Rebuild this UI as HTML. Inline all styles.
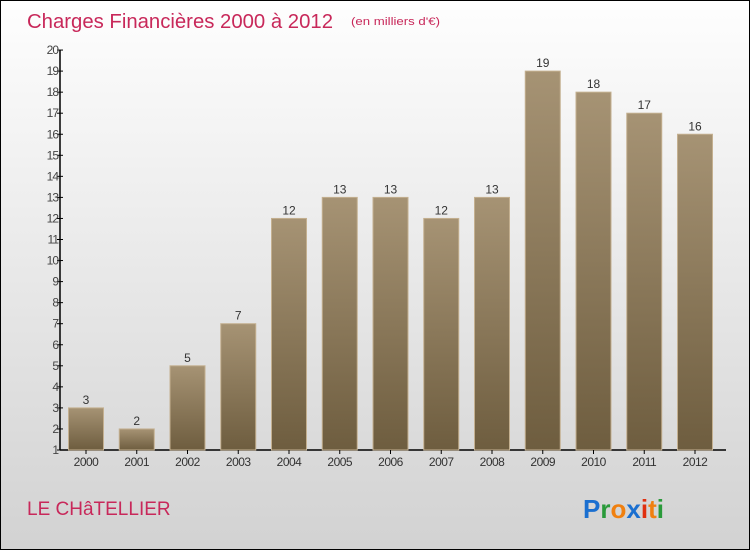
<!DOCTYPE html>
<html><head><meta charset="utf-8"><style>
body{margin:0}
#c{position:relative;width:748px;height:548px;border:1px solid #000;background:linear-gradient(#fefefe,#d2d2d2);overflow:hidden;font-family:"Liberation Sans",sans-serif}
</style></head><body>
<div id="c">
<svg width="748" height="548">
<defs><linearGradient id="bg" x1="0" y1="0" x2="0" y2="1"><stop offset="0" stop-color="#a69374"/><stop offset="1" stop-color="#6e5d3f"/></linearGradient></defs>
<text x="26" y="27" font-size="20" fill="#c8285a" textLength="306" lengthAdjust="spacingAndGlyphs">Charges Financières 2000 à 2012</text>
<text x="350" y="24" font-size="11" fill="#c8285a" textLength="89" lengthAdjust="spacingAndGlyphs">(en milliers d'€)</text>
<text x="26" y="514" font-size="19" fill="#c8285a">LE CHâTELLIER</text>
<text x="582" y="517" font-size="26" font-weight="bold"><tspan fill="#1a6fd0">P</tspan><tspan fill="#2a9a3a">r</tspan><tspan fill="#f08010">o</tspan><tspan fill="#1a6fd0">x</tspan><tspan fill="#e03010">i</tspan><tspan fill="#f08010">t</tspan><tspan fill="#2a9a3a">i</tspan></text>
<g id="g"></g>
</svg></div>
<script>
const years=["2000","2001","2002","2003","2004","2005","2006","2007","2008","2009","2010","2011","2012"];
const values=[3,2,5,7,12,13,13,12,13,19,18,17,16];
const yTicks=[1,2,3,4,5,6,7,8,9,10,11,12,13,14,15,16,17,18,19,20];
const NS="http://www.w3.org/2000/svg",g=document.getElementById('g');
const y=v=>449-(v-1)*21.05, x=i=>85+i*50.75;
function mk(t,a){const e=document.createElementNS(NS,t);for(const k in a)e.setAttribute(k,a[k]);g.appendChild(e);return e;}
let ax=mk('line',{x1:59,y1:49,x2:59,y2:449,stroke:'#000','stroke-width':1.5});


let xa=mk('line',{x1:59,y1:449,x2:725,y2:449,stroke:'#000','stroke-width':1.5});


yTicks.forEach(v=>{
 mk('line',{x1:56,x2:62,y1:y(v),y2:y(v),stroke:'#000'});
 const t=mk('text',{x:57,y:y(v)+4,'font-size':12,fill:'#444','text-anchor':'end','letter-spacing':'-1'});t.textContent=v;
 
 
});
values.forEach((v,i)=>{
 const r=mk('rect',{x:x(i)-17.5,y:y(v),width:35,height:449-y(v),fill:'url(#bg)',stroke:'#c4b090','stroke-width':1});
 
 
 const l=mk('text',{x:x(i),y:y(v)-4,'font-size':12,fill:'#333','text-anchor':'middle'});l.textContent=v;
 
 
 mk('line',{x1:x(i),x2:x(i),y1:449,y2:453,stroke:'#000'});
 const c=mk('text',{x:x(i),y:465,'font-size':12,fill:'#333','text-anchor':'middle','letter-spacing':'-0.5'});c.textContent=years[i];
 
 
});
</script>
</body></html>
